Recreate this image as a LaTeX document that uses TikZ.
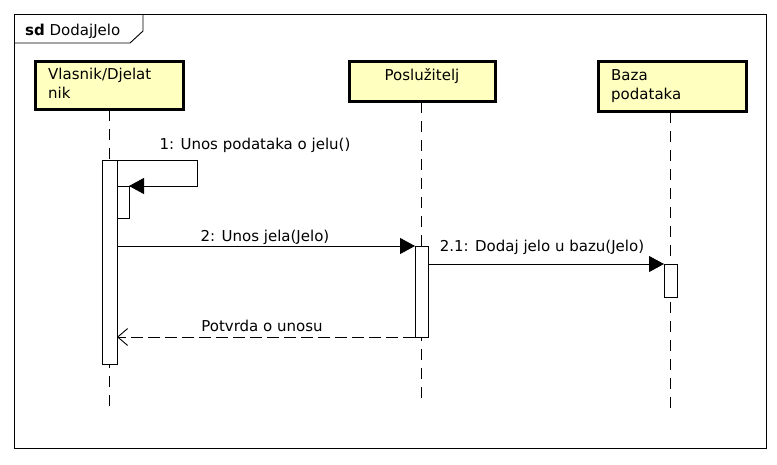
\documentclass[tikz,border=0pt]{standalone}
\usepackage{fontspec}
\setmainfont{DejaVu Sans}
\usetikzlibrary{arrows.meta}
\definecolor{lifefill}{HTML}{FFFFC0}
\tikzset{
  x=1pt, y=-1pt,
  every node/.style={font=\fontsize{15}{18.5}\selectfont, inner sep=0pt},
  lifebox/.style={draw, line width=3pt, fill=lifefill},
  actbar/.style={draw, line width=0.9pt, fill=white},
  lifeline/.style={line width=0.9pt, dash pattern=on 11pt off 8pt},
  msg/.style={line width=0.9pt, -{Triangle[length=15pt,width=16pt]}},
  ret/.style={line width=0.9pt, dash pattern=on 12pt off 5pt, -{Straight Barb[length=10pt,width=17pt,line width=0.9pt]}},
  lbl/.style={anchor=base}
}
\begin{document}
\begin{tikzpicture}
\useasboundingbox (0,0) rectangle (777,464);
% frame
\draw[line width=0.9pt] (14,14) rectangle (766,448);
\draw[line width=0.9pt] (14,43) -- (130,43) -- (143,31) -- (143,14);
\node[anchor=base west] (title) at (25,35) {\textbf{sd} DodajJelo};

% lifelines
\coordinate (l1top) at (109,110);
\coordinate (l1bot) at (109,410);
\coordinate (l2top) at (421,102);
\coordinate (l2bot) at (421,405);
\coordinate (l3top) at (670,112);
\coordinate (l3bot) at (670,410);
\draw[lifeline] (l1top) -- (l1bot);
\draw[lifeline] (l2top) -- (l2bot);
\draw[lifeline] (l3top) -- (l3bot);

% lifeline heads
\draw[lifebox] (35,61) rectangle (183,109);
\node[anchor=base west, align=left] (vl) at (48,98) {Vlasnik/Djelat\\nik};
\draw[lifebox] (349,61) rectangle (495,101);
\node[anchor=base] (pos) at (422,80) {Poslužitelj};
\draw[lifebox] (598,61) rectangle (746,111);
\node[anchor=base west, align=left] (baza) at (611,99) {Baza\\podataka};

% activation bars
\draw[actbar] (102,160) rectangle (117,364);
\coordinate (a1tr) at (117,160);
\draw[actbar] (117,186) rectangle (129,218);
\coordinate (a1n) at (129,186);
\draw[actbar] (415,246) rectangle (428,337);
\coordinate (a2l) at (415,246);
\coordinate (a2r) at (428,264);
\coordinate (a2b) at (415,337);
\draw[actbar] (664,264) rectangle (677,297);
\coordinate (a3l) at (664,264);
\coordinate (a1m) at (117,246);
\coordinate (a1r) at (117,337);

% messages
\draw[msg] (a1tr) -- (197,160) -- (197,186) -- (a1n);
\node[lbl] (m1) at (255,149) {1: Unos podataka o jelu()};
\draw[msg] (a1m) -- (a2l);
\node[lbl] (m2) at (265,241) {2: Unos jela(Jelo)};
\draw[msg] (a2r) -- (a3l);
\node[lbl] (m21) at (542,251) {2.1: Dodaj jelo u bazu(Jelo)};
\draw[ret] (a2b) -- (a1r);
\node[lbl] (m3) at (262,331) {Potvrda o unosu};
\end{tikzpicture}
\end{document}
